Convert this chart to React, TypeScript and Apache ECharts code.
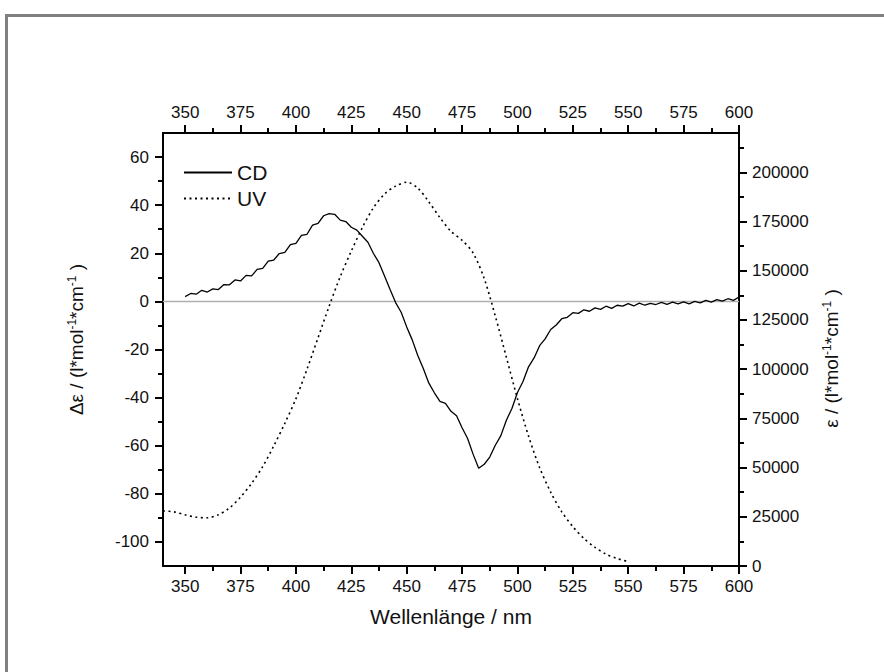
import React, { useEffect, useRef } from "react";
import * as echarts from "echarts";

// ---- data ----
const xMajorTicks = [350, 375, 400, 425, 450, 475, 500, 525, 550, 575, 600];
const xMinorTicks = [362.5, 387.5, 412.5, 437.5, 462.5, 487.5, 512.5, 537.5, 562.5, 587.5];
const leftMajorTicks = [-100, -80, -60, -40, -20, 0, 20, 40, 60];
const leftMinorTicks = [-90, -70, -50, -30, -10, 10, 30, 50];
const rightMajorTicks = [0, 25000, 50000, 75000, 100000, 125000, 150000, 175000, 200000];
const rightMinorTicks = [12500, 37500, 62500, 87500, 112500, 137500, 162500, 187500, 212500];

// CD spectrum: [wavelength nm, Δε]
const cdPoints: [number, number][] = [
  [350, 2.0], [352.5, 3.3], [355, 3.0], [357.5, 4.6], [360, 3.9], [362.5, 5.2], [365, 4.9],
  [367.5, 7.0], [370, 6.9], [372.5, 8.9], [375, 8.5], [377.5, 10.8], [380, 10.6], [382.5, 13.3],
  [385, 13.7], [387.5, 16.7], [390, 17.2], [392.5, 19.9], [395, 20.4], [397.5, 23.6], [400, 24.1],
  [402.5, 27.4], [405, 27.9], [407.5, 31.7], [410, 32.4], [412.5, 35.6], [415, 36.5], [417.5, 36.2],
  [420, 33.8], [422.5, 33.2], [425, 30.8], [427.5, 29.6], [430, 27.1], [432.5, 24.6], [435, 19.9],
  [437.5, 16.1], [440, 10.6], [442.5, 4.9], [445, -0.5], [447.5, -4.5], [450, -10.6], [452.5, -16.0],
  [455, -22.5], [457.5, -27.9], [460, -34.0], [462.5, -38.0], [465, -41.6], [467.5, -42.4],
  [470, -45.7], [472.5, -47.5], [475, -52.5], [477.5, -57.0], [480, -63.6], [482.5, -69.4],
  [485, -67.7], [487.5, -64.7], [490, -59.8], [492.5, -55.8], [495, -49.4], [497.5, -44.5],
  [500, -37.9], [502.5, -33.3], [505, -27.2], [507.5, -23.5], [510, -18.4], [512.5, -15.6],
  [515, -11.7], [517.5, -9.8], [520, -7.2], [522.5, -6.6], [525, -4.7], [527.5, -5.0], [530, -3.5],
  [532.5, -4.1], [535, -2.7], [537.5, -3.3], [540, -2.0], [542.5, -2.9], [545, -1.6], [547.5, -2.0],
  [550, -0.9], [552.5, -1.9], [555, -0.7], [557.5, -1.6], [560, -0.8], [562.5, -1.3], [565, -0.4],
  [567.5, -1.2], [570, -0.3], [572.5, -1.0], [575, -0.2], [577.5, -1.0], [580, 0.0], [582.5, -0.6],
  [585, 0.4], [587.5, -0.3], [590, 0.7], [592.5, 0.1], [595, 1.1], [597.5, 0.4], [600, 1.8],
];

// UV spectrum: [wavelength nm, ε]
const uvPoints: [number, number][] = [
  [340, 28000], [345, 27500], [350, 26000], [355, 24800], [360, 24500], [365, 26000],
  [370, 29500], [375, 35000], [380, 42000], [385, 50500], [390, 61000], [395, 72500],
  [400, 85000], [405, 100000], [410, 116000], [415, 132000], [420, 147000], [425, 160000],
  [430, 172000], [435, 182000], [440, 189000], [445, 193000], [450, 195000], [455, 192000],
  [460, 185000], [465, 177000], [470, 170000], [475, 165500], [480, 159000], [485, 146000],
  [490, 127000], [495, 106000], [500, 85000], [505, 66000], [510, 50000], [515, 37500],
  [520, 27500], [525, 20000], [530, 14000], [535, 9500], [540, 6000], [545, 3800], [550, 2200],
];

const zeroLine: [number, number][] = [[340, 0], [600, 0]];

const FONT = "'Liberation Sans', Arial, sans-serif";

export default function App() {
  const ref = useRef<HTMLDivElement>(null);
  useEffect(() => {
    if (!ref.current) return;
    const chart = echarts.init(ref.current, undefined, { renderer: "svg" });
    const axisLine = { show: true, onZero: false, lineStyle: { color: "#000", width: 2 } };
    const noLine = { show: false, onZero: false };
    const plain = (v: number) => String(v);
    const labelStyle = { color: "#111", fontSize: 17, fontFamily: FONT, formatter: plain };
    const xCommon = { type: "value", min: 340, max: 600, splitLine: { show: false }, gridIndex: 0 };
    const yLeft = { type: "value", min: -110, max: 70, splitLine: { show: false }, gridIndex: 0 };
    const yRight = { type: "value", min: 0, max: 220000, splitLine: { show: false }, gridIndex: 0 };
    const sup = { fontSize: 12, fontFamily: FONT, color: "#111", verticalAlign: "top", padding: [0, 0, 8, 0] };

    chart.setOption({
      animation: false,
      backgroundColor: "#fff",
      textStyle: { fontFamily: FONT },
      grid: { left: 163, right: 145, top: 133, bottom: 106, containLabel: false },
      graphic: [
        {
          type: "polyline",
          shape: { points: [[6.5, 680], [6.5, 15.5], [884, 15.5]] },
          style: { fill: "none", stroke: "#808080", lineWidth: 3 },
          silent: true,
          z: -1,
        },
      ],
      legend: {
        data: ["CD", "UV"],
        orient: "vertical",
        left: 178,
        top: 157,
        itemWidth: 48,
        itemHeight: 14,
        itemGap: 5,
        itemStyle: { opacity: 0 },
        textStyle: { fontSize: 21, color: "#111", fontFamily: FONT },
        inactiveColor: "#000",
      },
      xAxis: [
        {
          ...xCommon,
          position: "bottom",
          axisLine,
          axisTick: { show: true, inside: false, length: 8, lineStyle: { width: 2, color: "#000" }, customValues: xMajorTicks },
          axisLabel: { ...labelStyle, margin: 12, customValues: xMajorTicks },
          name: "Wellenlänge / nm",
          nameLocation: "middle",
          nameGap: 40,
          nameTextStyle: { fontSize: 21, color: "#111", fontFamily: FONT },
        },
        {
          ...xCommon,
          position: "bottom",
          axisLine: noLine,
          axisTick: { show: true, inside: false, length: 5, lineStyle: { width: 2, color: "#000" }, customValues: xMinorTicks },
          axisLabel: { show: false },
        },
        {
          ...xCommon,
          position: "top",
          axisLine,
          axisTick: { show: true, inside: false, length: 8, lineStyle: { width: 2, color: "#000" }, customValues: xMajorTicks },
          axisLabel: { ...labelStyle, margin: 12, customValues: xMajorTicks },
        },
        {
          ...xCommon,
          position: "top",
          axisLine: noLine,
          axisTick: { show: true, inside: false, length: 5, lineStyle: { width: 2, color: "#000" }, customValues: xMinorTicks },
          axisLabel: { show: false },
        },
      ],
      yAxis: [
        {
          ...yLeft,
          position: "left",
          axisLine,
          axisTick: { show: true, inside: false, length: 8, lineStyle: { width: 2, color: "#000" }, customValues: leftMajorTicks },
          axisLabel: { ...labelStyle, margin: 14, customValues: leftMajorTicks },
          name: "Δε / (l*mol{s|-1}*cm{s|-1} )",
          nameLocation: "middle",
          nameRotate: 90,
          nameGap: 77,
          nameTextStyle: { fontSize: 19, color: "#111", fontFamily: FONT, rich: { s: sup }, padding: [0, 0, 0, 20] },
        },
        {
          ...yLeft,
          position: "left",
          axisLine: noLine,
          axisTick: { show: true, inside: false, length: 5, lineStyle: { width: 2, color: "#000" }, customValues: leftMinorTicks },
          axisLabel: { show: false },
        },
        {
          ...yRight,
          position: "right",
          axisLine,
          axisTick: { show: true, inside: false, length: 8, lineStyle: { width: 2, color: "#000" }, customValues: rightMajorTicks },
          axisLabel: { ...labelStyle, margin: 13, customValues: rightMajorTicks },
          name: "ε / (l*mol{s|-1}*cm{s|-1} )",
          nameLocation: "middle",
          nameRotate: 90,
          nameGap: 82,
          nameTextStyle: { fontSize: 19, color: "#111", fontFamily: FONT, rich: { s: sup }, padding: [0, 18, 0, 0] },
        },
        {
          ...yRight,
          position: "right",
          axisLine: noLine,
          axisTick: { show: true, inside: false, length: 5, lineStyle: { width: 2, color: "#000" }, customValues: rightMinorTicks },
          axisLabel: { show: false },
        },
      ],
      series: [
        {
          name: "zero",
          type: "line",
          xAxisIndex: 0,
          yAxisIndex: 0,
          data: zeroLine,
          showSymbol: false,
          symbol: "none",
          silent: true,
          lineStyle: { color: "#b0b0b0", width: 1.5 },
          z: 1,
        },
        {
          name: "UV",
          type: "line",
          xAxisIndex: 0,
          yAxisIndex: 2,
          data: uvPoints,
          smooth: 0.3,
          showSymbol: false,
          symbol: "none",
          color: "#000",
          lineStyle: { color: "#000", width: 1.6, type: [2, 3.5] },
          z: 2,
        },
        {
          name: "CD",
          type: "line",
          xAxisIndex: 0,
          yAxisIndex: 0,
          data: cdPoints,
          showSymbol: false,
          symbol: "none",
          color: "#000",
          lineStyle: { color: "#000", width: 1.3 },
          z: 3,
        },
      ],
    });
    return () => chart.dispose();
  }, []);
  return <div ref={ref} style={{ position: "fixed", left: 0, top: 0, width: 884, height: 672 }} />;
}
